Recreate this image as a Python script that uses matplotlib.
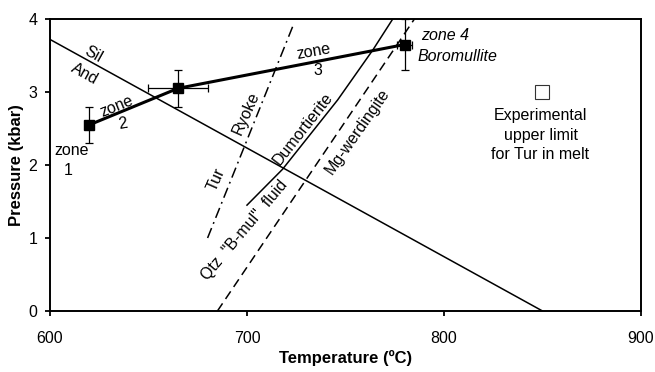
import numpy as np
import matplotlib.pyplot as plt

plt.rcParams['font.family'] = ['Liberation Sans', 'DejaVu Sans']

# metamorphic zones: P-T estimates with uncertainties
zone_t = [620, 665, 780]
zone_p = [2.55, 3.05, 3.65]
zone_terr = [0, 15, 4]
zone_perr = [0.25, 0.25, 0.35]

# And = Sil reaction
andsil_t = [600, 850]
andsil_p = [3.72, 0.0]

# Ryoke tourmaline-out curve
tur_t = [680, 724]
tur_p = [1.0, 3.95]

# Qtz + "B-mul" + fluid = Dumortierite
dum_t = [700, 718, 746, 764, 774]
dum_p = [1.45, 1.94, 2.89, 3.58, 4.0]

# Mg-werdingite curve
mgw_t = [685, 785]
mgw_p = [0.0, 4.0]

# experimental upper limit for tourmaline in melt
exp_t = [850]
exp_p = [3.0]

fig = plt.figure(figsize=(6.55, 3.72), dpi=100)
ax = fig.add_axes([0.0763, 0.164, 0.9023, 0.785])

ax.plot(andsil_t, andsil_p, color='black', lw=1.1)
ax.plot(tur_t, tur_p, color='black', lw=1.1, dashes=[7, 3, 1.2, 3])
ax.plot(dum_t, dum_p, color='black', lw=1.1)
ax.plot(mgw_t, mgw_p, color='black', lw=1.1, dashes=[6, 3.5])

ax.errorbar(zone_t, zone_p, xerr=zone_terr, yerr=zone_perr, fmt='none',
            ecolor='black', elinewidth=0.9, capsize=3, capthick=0.9)
ax.plot(zone_t, zone_p, color='black', lw=2.2, marker='s', ms=7,
        mfc='black', mec='black')
ax.plot(exp_t, exp_p, ls='none', marker='s', ms=10.5, mfc='white',
        mec='#333333', mew=0.8)

fs = 11.5
ax.text(622, 3.51, 'Sil', fontsize=fs, rotation=-29, ha='center', va='center',
        rotation_mode='anchor')
ax.text(617.8, 3.25, 'And', fontsize=fs, rotation=-29, ha='center', va='center',
        rotation_mode='anchor')
ax.text(611, 2.2, 'zone', fontsize=fs, ha='center', va='center')
ax.text(609, 1.93, '1', fontsize=fs, ha='center', va='center')
ax.text(633.8, 2.8, 'zone', fontsize=fs, rotation=22, ha='center', va='center',
        rotation_mode='anchor')
ax.text(637.2, 2.57, '2', fontsize=fs, rotation=10, ha='center', va='center',
        rotation_mode='anchor')
ax.text(733.7, 3.55, 'zone', fontsize=fs, rotation=10, ha='center', va='center',
        rotation_mode='anchor')
ax.text(736.2, 3.3, '3', fontsize=fs, ha='center', va='center')
ax.text(788.3, 3.78, 'zone 4', fontsize=fs, style='italic', ha='left', va='center')
ax.text(786.6, 3.49, 'Boromullite', fontsize=fs, style='italic', ha='left',
        va='center')
ax.text(849, 2.41, 'Experimental\nupper limit\nfor Tur in melt', fontsize=fs,
        ha='center', va='center', linespacing=1.4)
ax.text(699.8, 2.71, 'Ryoke', fontsize=fs, rotation=66, ha='center', va='center',
        rotation_mode='anchor')
ax.text(684.5, 1.8, 'Tur', fontsize=fs, rotation=66, ha='center', va='center',
        rotation_mode='anchor')
ax.text(728.3, 2.5, 'Dumortierite', fontsize=fs, rotation=52, ha='center',
        va='center', rotation_mode='anchor')
ax.text(698.5, 1.1, 'Qtz  "B-mul"  fluid', fontsize=fs, rotation=50,
        ha='center', va='center', rotation_mode='anchor')
ax.text(756.1, 2.46, 'Mg-werdingite', fontsize=fs, rotation=55, ha='center',
        va='center', rotation_mode='anchor')

ax.set_xlim(600, 900)
ax.set_ylim(0, 4)
ax.set_xticks([600, 700, 800, 900])
ax.set_yticks([0, 1, 2, 3, 4])
ax.tick_params(direction='out', length=3.6, width=1.3, labelsize=11.5, pad=11)
ax.tick_params(axis='y', pad=5.5)
for s in ax.spines.values():
    s.set_linewidth(1.4)
ax.set_xlabel('Temperature (ºC)', fontsize=12, fontweight='bold', labelpad=3)
ax.set_ylabel('Pressure (kbar)', fontsize=12, fontweight='bold', labelpad=3)

fig.savefig('out.png', dpi=100)
